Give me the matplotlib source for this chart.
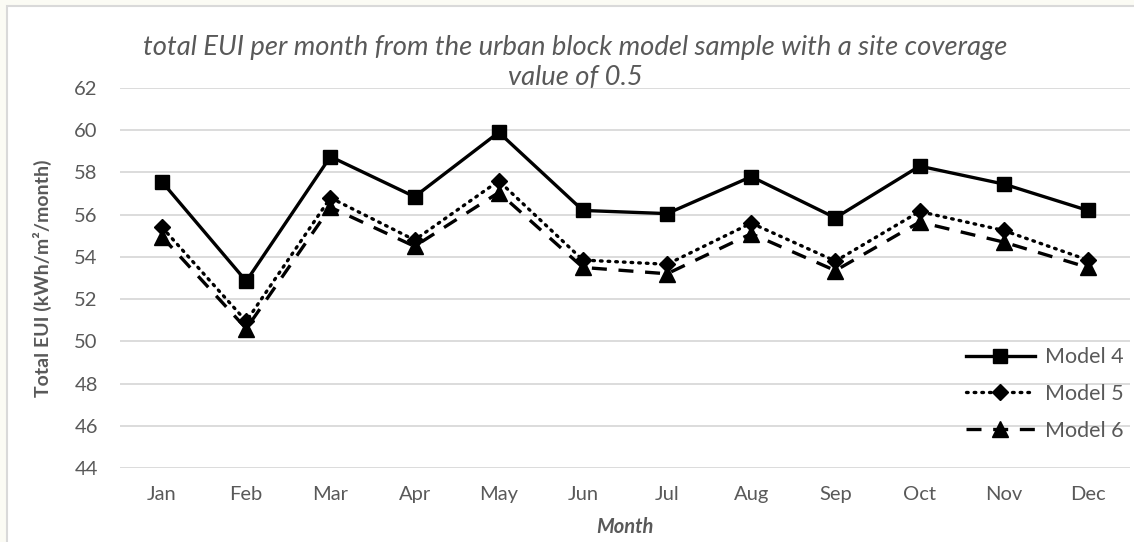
import matplotlib
matplotlib.use("Agg")
import matplotlib.pyplot as plt
from matplotlib.patches import Rectangle

# data
months = ["Jan", "Feb", "Mar", "Apr", "May", "Jun",
          "Jul", "Aug", "Sep", "Oct", "Nov", "Dec"]
model4 = [57.55, 52.85, 58.75, 56.85, 59.9, 56.2, 56.05, 57.8, 55.85, 58.3, 57.45, 56.2]
model5 = [55.4, 50.95, 56.8, 54.8, 57.6, 53.85, 53.65, 55.6, 53.8, 56.15, 55.25, 53.85]
model6 = [54.95, 50.6, 56.35, 54.5, 57.05, 53.5, 53.2, 55.1, 53.35, 55.65, 54.7, 53.5]
yticks = [44, 46, 48, 50, 52, 54, 56, 58, 60, 62]

title = "total EUI per month from the urban block model sample with a site coverage\nvalue of 0.5"
gray = "#595959"
grid = "#d9d9d9"

plt.rcParams['font.family'] = ['Lato', 'DejaVu Sans']

W, H = 1134, 542
fig = plt.figure(figsize=(W / 100, H / 100), dpi=100)
fig.patch.set_facecolor("#fbfbf4")

# white chart area with light border, behind everything
bg = Rectangle((7 / W, -0.1), 1.2, (H - 6) / H + 0.1,
               transform=fig.transFigure, facecolor="white",
               edgecolor=grid, linewidth=1.5, zorder=-10)
fig.add_artist(bg)

# plot area: x 120..1130, y 88..468 (pixels)
ax = fig.add_axes([120 / W, (H - 468) / H, 1010 / W, 380 / H])
ax.set_facecolor("none")

x = list(range(len(months)))
ax.plot(x, model4, color="black", lw=2.4, marker="s", ms=10.5,
        label="Model 4", zorder=5)
ax.plot(x, model5, color="black", lw=2.4, ls=(0, (0.5, 1.8)),
        dash_capstyle="round", marker="D", ms=8, label="Model 5", zorder=4)
ax.plot(x, model6, color="black", lw=2.4, ls=(0, (4.5, 3.5)),
        marker="^", ms=11, label="Model 6", zorder=3)

ax.set_xlim(-0.5, len(months) - 0.5)
ax.set_ylim(44, 62)
ax.set_yticks(yticks)
ax.set_xticks(x)
ax.set_xticklabels(months)
ax.tick_params(length=0, labelsize=14.5, labelcolor=gray)
ax.tick_params(axis="y", pad=16)
ax.tick_params(axis="x", pad=13)
for s in ax.spines.values():
    s.set_visible(False)
ax.yaxis.grid(True, color=grid, lw=1.3)
ax.set_axisbelow(True)

ax.set_ylabel("Total EUI (kWh/m²/month)", fontsize=14, fontweight="bold",
              color=gray)
ax.yaxis.set_label_coords((52 - 120) / 1010, 0.5)
ax.set_xlabel("Month", fontsize=14.5, fontweight="bold", fontstyle="italic",
              color=gray, va="center")
ax.xaxis.set_label_coords(0.5, -(527 - 468) / 380)

fig.text(575 / W, 1 - 62 / H, title, ha="center", va="center",
         fontsize=19.7, fontstyle="italic", color=gray, linespacing=1.25)

ax.legend(loc="center left", bbox_to_anchor=(966 / W, 1 - 394 / H),
          bbox_transform=fig.transFigure, frameon=False, fontsize=15.5,
          labelcolor=gray, handlelength=3.2, handletextpad=0.45,
          labelspacing=0.78, borderpad=0, borderaxespad=0)

fig.savefig("out.png", dpi=100, facecolor=fig.get_facecolor())
